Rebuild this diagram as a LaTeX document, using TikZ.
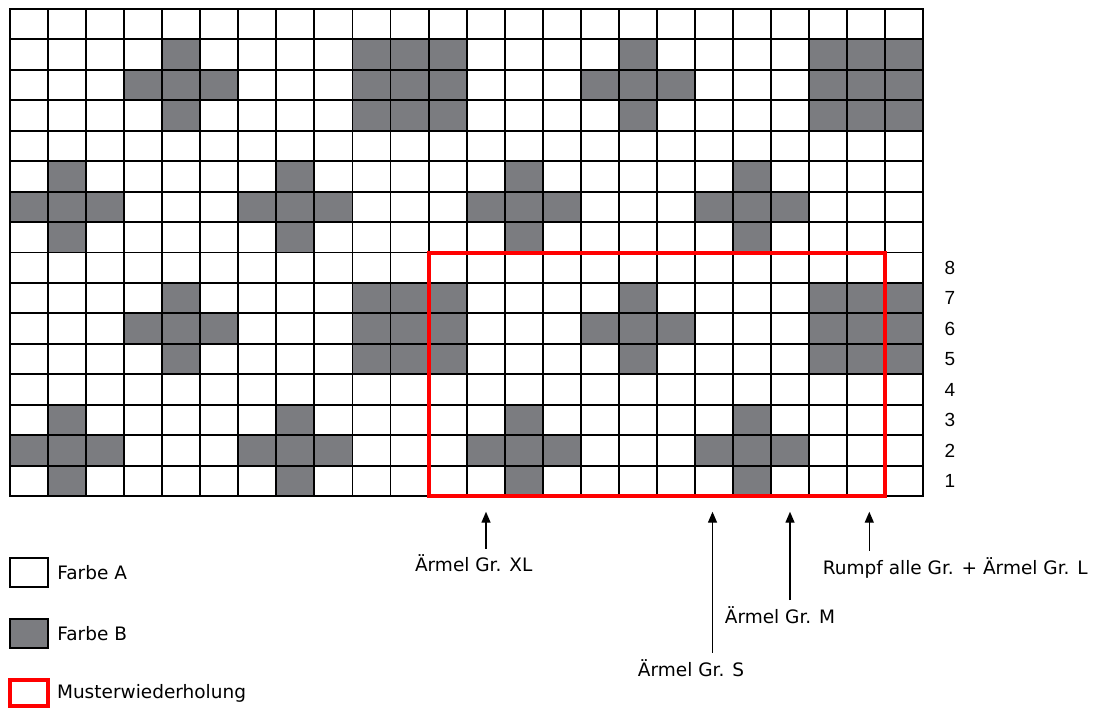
\documentclass[tikz,border=0pt]{standalone}
\usepackage{fontspec}
\setmainfont{DejaVu Sans}
\newfontfamily\numfont{Liberation Sans}
\usetikzlibrary{arrows.meta,positioning}
\definecolor{farbeB}{RGB}{123,124,128}
\tikzset{
  >={Triangle[length=11pt,width=9pt]},
  gridline/.style={draw=black, line width=1.9pt},
  cellB/.style={fill=farbeB},
  repeatbox/.style={draw=red, line width=4pt},
  pointer/.style={->, line width=1.4pt},
  lbl/.style={font=\fontsize{18.5}{22}\selectfont, inner sep=6pt, anchor=base},
  rownum/.style={font=\numfont\fontsize{19}{22}\selectfont, inner sep=0pt},
  keybox/.style={
    draw, line width=1.9pt, inner sep=0pt,
    minimum width=38pt, minimum height=29pt
  },
  keytext/.style={font=\fontsize{18.5}{22}\selectfont, inner sep=0pt},
}

\begin{document}
\begin{tikzpicture}[x=1pt, y=-1pt]
  \useasboundingbox (0,0) rectangle (1097,709);

  \begin{scope}[xshift=10pt, yshift=-9pt, x=38.05pt, y=-30.44pt]
    \foreach \dc in {0,12} {
      \foreach \dr in {0,8} {
        \foreach \c/\r in {4/1,3/2,4/2,5/2,4/3,
                           9/1,10/1,11/1,9/2,10/2,11/2,9/3,10/3,11/3,
                           1/5,0/6,1/6,2/6,1/7,
                           7/5,6/6,7/6,8/6,7/7}
          \fill[cellB] (\c+\dc,\r+\dr) rectangle ++(1,1);
      }
    }
    \foreach \c in {1,...,23}
      \draw[gridline] (\c,0) -- (\c,16);
    \foreach \r in {1,...,15}
      \draw[gridline] (0,\r) -- (24,\r);
    \draw[gridline] (0,0) rectangle (24,16);
    \draw[repeatbox] (11,8) rectangle (23,16);

    \foreach \r in {1,...,8}
      \node[rownum] (n\r) at (24.7,16.5-\r) {\r};
  \end{scope}

  \coordinate (tipXL) at (486,511.7);
  \coordinate (tipS)  at (712.5,511.7);
  \coordinate (tipM)  at (790,511.7);
  \coordinate (tipL)  at (869.3,511.7);

  \node[lbl] (lblXL) at (473.7,571.7) {Ärmel Gr. XL};
  \node[lbl] (lblS)  at (691,676) {Ärmel Gr. S};
  \node[lbl] (lblM)  at (780,623.3) {Ärmel Gr. M};
  \node[lbl] (lblL)  at (955.3,574) {Rumpf alle Gr. + Ärmel Gr. L};

  \draw[pointer] (lblXL.north -| tipXL) -- (tipXL);
  \draw[pointer] (lblS.north -| tipS) -- (tipS);
  \draw[pointer] (lblM.north -| tipM) -- (tipM);
  \draw[pointer] (lblL.north -| tipL) -- (tipL);

  \node[keybox] (keyA) at (29.3,572.2) {};
  \node[keybox, fill=farbeB] (keyB) at (29.3,633.3) {};
  \node[keybox, draw=red, line width=4pt, minimum width=37.7pt,
        minimum height=26pt] (keyR) at (29.2,693.3) {};
  \node[keytext, right=8pt of keyA] (txtA) {Farbe A};
  \node[keytext, right=8pt of keyB] (txtB) {Farbe B};
  \node[keytext, right=6.8pt of keyR] (txtR) {Musterwiederholung};
\end{tikzpicture}
\end{document}
